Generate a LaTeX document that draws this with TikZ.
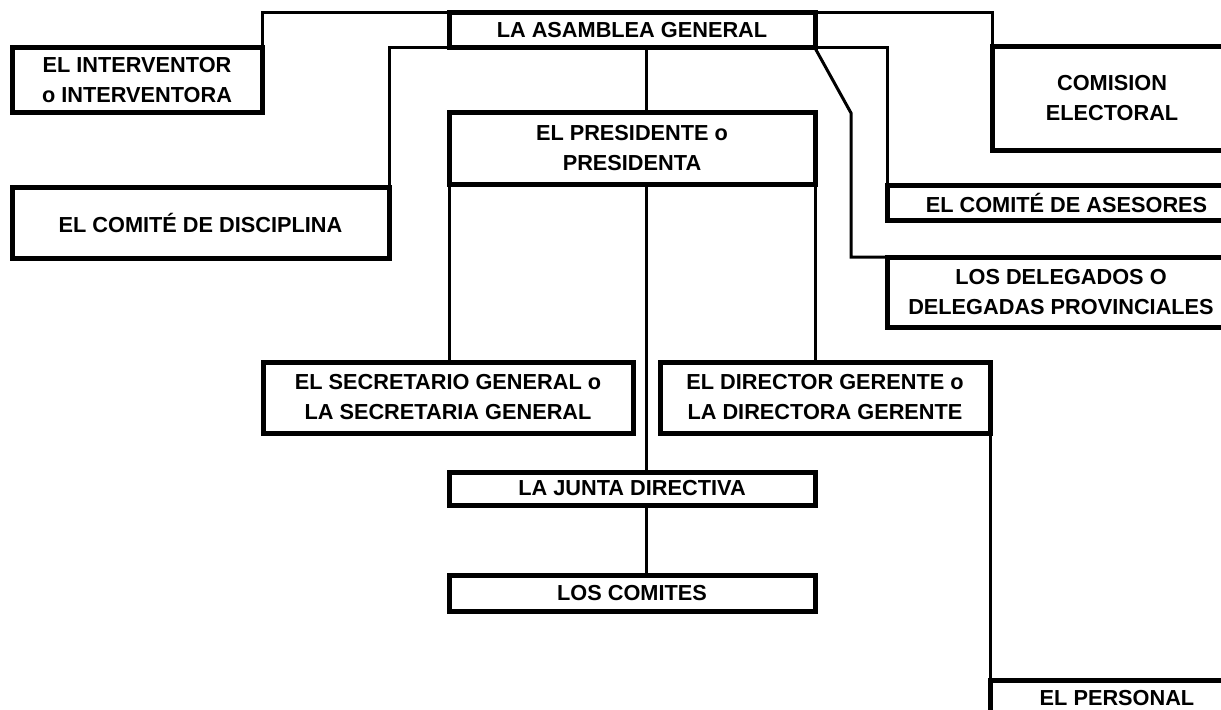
\documentclass[tikz,border=0pt]{standalone}
\usepackage{fontspec}
\setmainfont{Liberation Sans}
\usepackage{tikz}
\usetikzlibrary{positioning}
\newlength{\pxu}
\setlength{\pxu}{0.75pt}

\begin{document}
\begin{tikzpicture}[
    x=0.75pt, y=-0.75pt,
    cargo/.style={rectangle, draw=black, fill=white, text=black, line width=5\pxu, outer sep=0pt, inner sep=0pt, align=center, font=\bfseries\fontsize{16.3}{22.5}\selectfont},
    enlace/.style={draw=black, line width=3\pxu},
  ]
    \useasboundingbox (0,0) rectangle (1221,710);
    \clip (0,0) rectangle (1221,710);
    \node[cargo, minimum width=366\pxu, minimum height=35\pxu] (asamblea) at (632,30.5) {LA ASAMBLEA GENERAL};
    \node[cargo, minimum width=250\pxu, minimum height=65\pxu] (interventor) at (137,80.5) {EL INTERVENTOR\\o INTERVENTORA};
    \node[cargo, minimum width=377\pxu, minimum height=71\pxu] (disciplina) at (200.5,222.5) {EL COMITÉ DE DISCIPLINA};
    \node[cargo, minimum width=240\pxu, minimum height=103\pxu] (comision) at (1112,98.5) {COMISION\\ELECTORAL};
    \node[cargo, minimum width=359\pxu, minimum height=35\pxu] (asesores) at (1066.5,202.5) {EL COMITÉ DE ASESORES};
    \node[cargo, minimum width=348\pxu, minimum height=70\pxu] (delegados) at (1061,292) {LOS DELEGADOS O\\DELEGADAS PROVINCIALES};
    \node[cargo, minimum width=366\pxu, minimum height=71\pxu] (presidente) at (632,148.5) {EL PRESIDENTE o\\PRESIDENTA};
    \node[cargo, minimum width=370\pxu, minimum height=71\pxu] (secretario) at (448,397.5) {EL SECRETARIO GENERAL o\\LA SECRETARIA GENERAL};
    \node[cargo, minimum width=330\pxu, minimum height=71\pxu] (director) at (825,397.5) {EL DIRECTOR GERENTE o\\LA DIRECTORA GERENTE};
    \node[cargo, minimum width=366\pxu, minimum height=33\pxu] (junta) at (632,488.5) {LA JUNTA DIRECTIVA};
    \node[cargo, minimum width=366\pxu, minimum height=36\pxu] (comites) at (632,593) {LOS COMITES};
    \node[cargo, minimum width=254\pxu, minimum height=36\pxu] (personal) at (1117,698) {EL PERSONAL};
    \coordinate (eje) at (646,0);
    \coordinate (quiebre) at (851,113);
    \draw[enlace] (asamblea.north west) -| (interventor.north east);
    \draw[enlace] (asamblea.south west) -| (disciplina.north east);
    \draw[enlace] (asamblea.north east) -| (comision.north west);
    \draw[enlace] (asamblea.south east) -| (asesores.north west);
    \draw[enlace] (asamblea.south east) -- (quiebre) |- (delegados.north west);
    \draw[enlace] (asamblea.south -| eje) -- (presidente.north -| eje);
    \draw[enlace] (presidente.south -| eje) -- (junta.north -| eje);
    \draw[enlace] (junta.south -| eje) -- (comites.north -| eje);
    \draw[enlace] (presidente.south west) -- (presidente.south west |- secretario.north);
    \draw[enlace] (presidente.south east) -- (presidente.south east |- director.north);
    \draw[enlace] (director.south east) -- (personal.north west);
  \end{tikzpicture}
\end{document}
